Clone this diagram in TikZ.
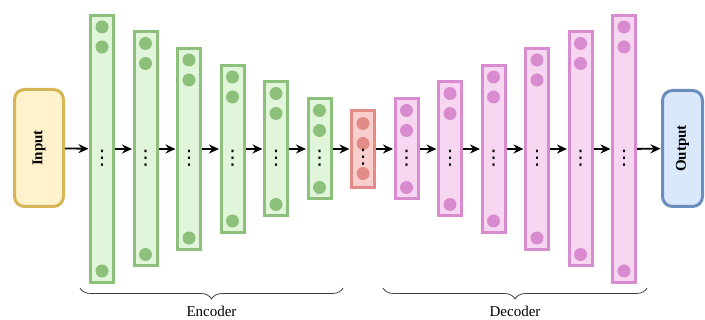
\documentclass[tikz,border=0pt]{standalone}
\usepackage{fontspec}
\setmainfont{Liberation Serif}
\newfontfamily\symfont{DejaVu Sans}
\usetikzlibrary{positioning,arrows.meta,decorations.pathreplacing}

\definecolor{gfill}{HTML}{E1F5DA}
\definecolor{gline}{HTML}{8DC07B}
\definecolor{pfill}{HTML}{F6D6F0}
\definecolor{pline}{HTML}{D98BCF}
\definecolor{rfill}{HTML}{F8CFCC}
\definecolor{rline}{HTML}{E38C87}
\definecolor{yfill}{HTML}{FFF2CC}
\definecolor{yline}{HTML}{D6B656}
\definecolor{bfill}{HTML}{DAE8FC}
\definecolor{bline}{HTML}{6C8EBF}

\begin{document}
\begin{tikzpicture}[x=1pt,y=-1pt,node distance=43.5pt]
  \tikzstyle{encL}=[rectangle,draw=gline,fill=gfill,line width=3pt,minimum width=23pt,inner sep=0pt]
  \tikzstyle{decL}=[rectangle,draw=pline,fill=pfill,line width=3pt,minimum width=23pt,inner sep=0pt]
  \tikzstyle{midL}=[rectangle,draw=rline,fill=rfill,line width=3pt,minimum width=23pt,inner sep=0pt]
  \tikzstyle{gball}=[fill=gline]
  \tikzstyle{pball}=[fill=pline]
  \tikzstyle{rball}=[fill=rline]
  \tikzstyle{vd}=[inner sep=0pt,font=\symfont\fontsize{20}{20}\selectfont]
  \tikzstyle{endbox}=[rectangle,rounded corners=10pt,line width=3pt,inner sep=0pt,font=\bfseries\fontsize{15}{18}\selectfont]
  \tikzstyle{arr}=[-{Stealth[length=10pt,width=9pt]},line width=1.8pt,black,shorten >=0.5pt]
  \tikzstyle{brc}=[decorate,decoration={brace,mirror,amplitude=11pt},line width=0.8pt,black!75]
  \useasboundingbox (0,0) rectangle (705,320);

  % input / output
  \node[endbox, draw=yline, fill=yfill, minimum width=49pt, minimum height=117pt] (in) at (39,148) {\rotatebox{90}{Input}};
  \node[endbox, draw=bline, fill=bfill, minimum width=40pt, minimum height=116pt] (out) at (682.5,148.5) {\rotatebox{90}{Output}};

  % encoder
  \node[encL, minimum height=267pt] (e1) at (102,149) {};
  \node[encL, minimum height=234pt, right of=e1] (e2) {};
  \node[encL, minimum height=201pt, right of=e2] (e3) {};
  \node[encL, minimum height=167pt, right of=e3] (e4) {};
  \node[encL, minimum height=134pt, right of=e4] (e5) {};
  \node[encL, minimum height=100pt, right of=e5] (e6) {};

  % bottleneck
  \node[midL, minimum height=77pt, right of=e6] (mid) {};

  % decoder
  \node[decL, minimum height=100pt, right of=mid] (d1) {};
  \node[decL, minimum height=134pt, right of=d1] (d2) {};
  \node[decL, minimum height=167pt, right of=d2] (d3) {};
  \node[decL, minimum height=201pt, right of=d3] (d4) {};
  \node[decL, minimum height=234pt, right of=d4] (d5) {};
  \node[decL, minimum height=267pt, right of=d5] (d6) {};

  % neurons
  \fill[gball] ([yshift=-13pt]e1.north) circle (6.5pt) ([yshift=-33pt]e1.north) circle (6.5pt) ([yshift=13pt]e1.south) circle (6.5pt);
  \fill[gball] ([yshift=-13pt]e2.north) circle (6.5pt) ([yshift=-33pt]e2.north) circle (6.5pt) ([yshift=13pt]e2.south) circle (6.5pt);
  \fill[gball] ([yshift=-13pt]e3.north) circle (6.5pt) ([yshift=-33pt]e3.north) circle (6.5pt) ([yshift=13pt]e3.south) circle (6.5pt);
  \fill[gball] ([yshift=-13pt]e4.north) circle (6.5pt) ([yshift=-33pt]e4.north) circle (6.5pt) ([yshift=13pt]e4.south) circle (6.5pt);
  \fill[gball] ([yshift=-13pt]e5.north) circle (6.5pt) ([yshift=-33pt]e5.north) circle (6.5pt) ([yshift=13pt]e5.south) circle (6.5pt);
  \fill[gball] ([yshift=-13pt]e6.north) circle (6.5pt) ([yshift=-33pt]e6.north) circle (6.5pt) ([yshift=13pt]e6.south) circle (6.5pt);
  \fill[rball] ([yshift=-14.5pt]mid.north) circle (6.5pt) ([yshift=-34.5pt]mid.north) circle (6.5pt) ([yshift=15.5pt]mid.south) circle (6.5pt);
  \fill[pball] ([yshift=-13pt]d1.north) circle (6.5pt) ([yshift=-33pt]d1.north) circle (6.5pt) ([yshift=13pt]d1.south) circle (6.5pt);
  \fill[pball] ([yshift=-13pt]d2.north) circle (6.5pt) ([yshift=-33pt]d2.north) circle (6.5pt) ([yshift=13pt]d2.south) circle (6.5pt);
  \fill[pball] ([yshift=-13pt]d3.north) circle (6.5pt) ([yshift=-33pt]d3.north) circle (6.5pt) ([yshift=13pt]d3.south) circle (6.5pt);
  \fill[pball] ([yshift=-13pt]d4.north) circle (6.5pt) ([yshift=-33pt]d4.north) circle (6.5pt) ([yshift=13pt]d4.south) circle (6.5pt);
  \fill[pball] ([yshift=-13pt]d5.north) circle (6.5pt) ([yshift=-33pt]d5.north) circle (6.5pt) ([yshift=13pt]d5.south) circle (6.5pt);
  \fill[pball] ([yshift=-13pt]d6.north) circle (6.5pt) ([yshift=-33pt]d6.north) circle (6.5pt) ([yshift=13pt]d6.south) circle (6.5pt);

  % dots
  \node[vd] (e1v) at ([yshift=-9pt]e1) {⋮};
  \node[vd] (e2v) at ([yshift=-9pt]e2) {⋮};
  \node[vd] (e3v) at ([yshift=-9pt]e3) {⋮};
  \node[vd] (e4v) at ([yshift=-9pt]e4) {⋮};
  \node[vd] (e5v) at ([yshift=-9pt]e5) {⋮};
  \node[vd] (e6v) at ([yshift=-9pt]e6) {⋮};
  \node[vd] (midv) at ([yshift=-8pt]mid) {⋮};
  \node[vd] (d1v) at ([yshift=-9pt]d1) {⋮};
  \node[vd] (d2v) at ([yshift=-9pt]d2) {⋮};
  \node[vd] (d3v) at ([yshift=-9pt]d3) {⋮};
  \node[vd] (d4v) at ([yshift=-9pt]d4) {⋮};
  \node[vd] (d5v) at ([yshift=-9pt]d5) {⋮};
  \node[vd] (d6v) at ([yshift=-9pt]d6) {⋮};

  % edges
  \draw[arr] (in) -- (e1);
  \draw[arr] (e1) -- (e2);
  \draw[arr] (e2) -- (e3);
  \draw[arr] (e3) -- (e4);
  \draw[arr] (e4) -- (e5);
  \draw[arr] (e5) -- (e6);
  \draw[arr] (e6) -- (mid);
  \draw[arr] (mid) -- (d1);
  \draw[arr] (d1) -- (d2);
  \draw[arr] (d2) -- (d3);
  \draw[arr] (d3) -- (d4);
  \draw[arr] (d4) -- (d5);
  \draw[arr] (d5) -- (d6);
  \draw[arr] (d6) -- (out);

  % braces
  \coordinate (encA) at (80,288);
  \coordinate (encB) at (343,288);
  \coordinate (decA) at (383,288);
  \coordinate (decB) at (647,288);
  \draw[brc] (encA) -- (encB);
  \draw[brc] (decA) -- (decB);
  \node[font=\fontsize{15}{18}\selectfont] (enc) at (211.5,311) {Encoder};
  \node[font=\fontsize{15}{18}\selectfont] (dec) at (515,311) {Decoder};

\end{tikzpicture}
\end{document}
